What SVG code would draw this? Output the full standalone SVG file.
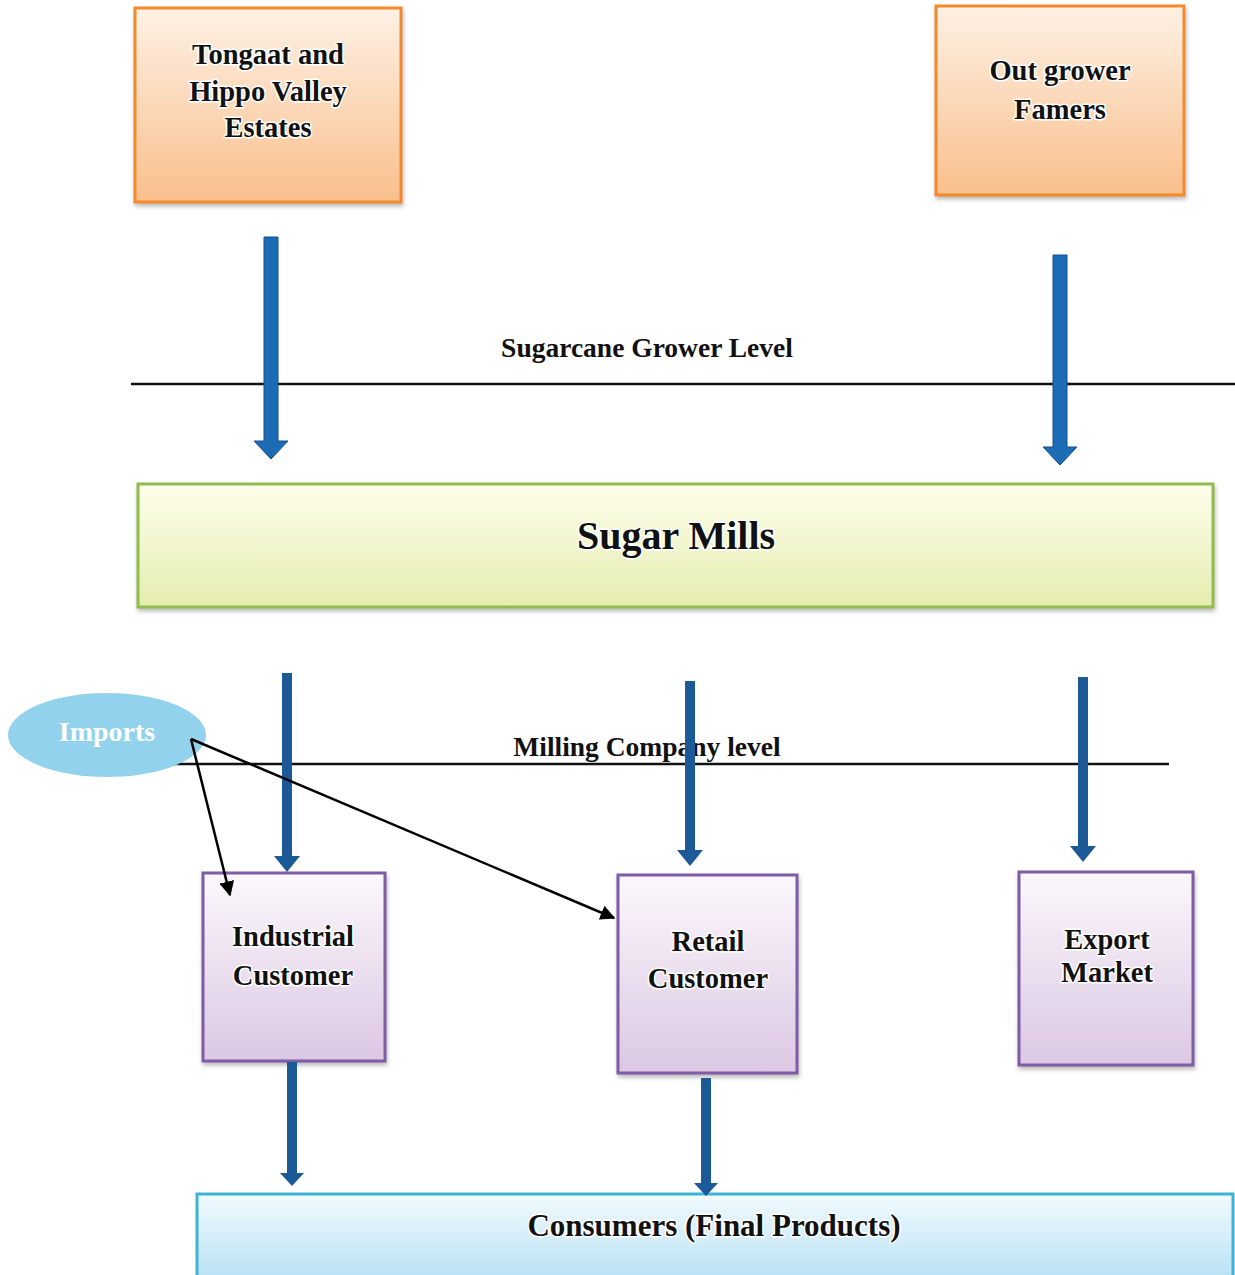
<svg xmlns="http://www.w3.org/2000/svg" width="1235" height="1275" viewBox="0 0 1235 1275">
<style>
.t{font-family:"Liberation Serif","DejaVu Serif",serif;font-weight:bold;fill:#111;text-anchor:middle;stroke:#fff;stroke-width:3;paint-order:stroke;stroke-linejoin:round}
.lv{font-family:"Liberation Serif","DejaVu Serif",serif;font-weight:bold;fill:#111;text-anchor:middle;font-size:27.5px}
.org{fill:url(#gO);stroke:#F28A2C;stroke-width:3}
.pur{fill:url(#gP);stroke:#7F5BA6;stroke-width:3}
.lvl{stroke:#111;stroke-width:2.5}
.blue1{fill:#1C6BB5;stroke:#174E8C;stroke-width:1}
.blue2{fill:#1B5A97}
.blk{stroke:#000;stroke-width:2.5;fill:none;marker-end:url(#ah)}
</style>
<defs>
<linearGradient id="gO" x1="0" y1="0" x2="0" y2="1"><stop offset="0" stop-color="#FEF1E5"/><stop offset="1" stop-color="#F9BF8C"/></linearGradient>
<linearGradient id="gG" x1="0" y1="0" x2="0" y2="1"><stop offset="0" stop-color="#FEFEEC"/><stop offset="1" stop-color="#E5EDAF"/></linearGradient>
<linearGradient id="gP" x1="0" y1="0" x2="0" y2="1"><stop offset="0" stop-color="#FCF7FC"/><stop offset="1" stop-color="#DBC8E3"/></linearGradient>
<linearGradient id="gB" x1="0" y1="0" x2="0" y2="1"><stop offset="0" stop-color="#F2FAFE"/><stop offset="1" stop-color="#B5E0F4"/></linearGradient>
<filter id="sh" x="-5%" y="-5%" width="110%" height="115%"><feDropShadow dx="1" dy="3" stdDeviation="2" flood-color="#777" flood-opacity="0.5"/></filter>
<marker id="ah" viewBox="0 0 10 10" refX="9" refY="5" markerWidth="6" markerHeight="6" orient="auto" markerUnits="strokeWidth"><path d="M0,0 L10,5 L0,10 z" fill="#000"/></marker>
</defs>

<g id="tongaat"><rect class="org" x="135" y="8" width="266" height="194" filter="url(#sh)"/>
<text class="t" font-size="28.5" x="268" y="64">Tongaat and</text>
<text class="t" font-size="28.5" x="268" y="101">Hippo Valley</text>
<text class="t" font-size="28.5" x="268" y="137">Estates</text></g>

<g id="outgrower"><rect class="org" x="936" y="6" width="248" height="189" filter="url(#sh)"/>
<text class="t" font-size="28.5" x="1060" y="80">Out grower</text>
<text class="t" font-size="28.5" x="1060" y="119">Famers</text></g>

<g id="levels">
<line class="lvl" x1="131" y1="384" x2="1235" y2="384"/>
<text class="lv" x="647" y="357">Sugarcane Grower Level</text>
<line class="lvl" x1="61" y1="764" x2="1169" y2="764"/>
</g>

<g id="sugarmills"><rect x="138" y="484" width="1075" height="123" fill="url(#gG)" stroke="#92BC4E" stroke-width="3" filter="url(#sh)"/>
<text class="t" font-size="40" x="676" y="549">Sugar Mills</text></g>

<g id="imports"><ellipse cx="107" cy="735" rx="99" ry="42" fill="#92D2EC"/>
<text x="107" y="741" font-family="Liberation Serif,DejaVu Serif,serif" font-weight="bold" font-size="28" fill="#fff" text-anchor="middle">Imports</text></g>

<g id="industrial"><rect class="pur" x="203" y="873" width="182" height="188" filter="url(#sh)"/>
<text class="t" font-size="28.5" x="293" y="946">Industrial</text>
<text class="t" font-size="28.5" x="293" y="985">Customer</text></g>

<g id="retail"><rect class="pur" x="618" y="875" width="179" height="198" filter="url(#sh)"/>
<text class="t" font-size="28.5" x="708" y="951">Retail</text>
<text class="t" font-size="28.5" x="708" y="988">Customer</text></g>

<g id="export"><rect class="pur" x="1019" y="872" width="174" height="193" filter="url(#sh)"/>
<text class="t" font-size="28.5" x="1107" y="949">Export</text>
<text class="t" font-size="28.5" x="1107" y="982">Market</text></g>

<g id="consumers"><rect x="197" y="1194" width="1036" height="90" fill="url(#gB)" stroke="#3FB3D6" stroke-width="3"/>
<text class="t" font-size="31" x="714" y="1236">Consumers (Final Products)</text></g>

<text class="lv" x="647" y="756">Milling Company level</text>

<g id="connectors">
<path class="blue1" d="M264,237 H278 V441 H288 L271,459 L254,441 H264 Z"/>
<path class="blue1" d="M1053,255 H1067 V447 H1077 L1060,465 L1043,447 H1053 Z"/>
<path class="blue2" d="M282,673 H292 V856 H300 L287,872 L274,856 H282 Z"/>
<path class="blue2" d="M685,681 H695 V850 H703 L690,866 L677,850 H685 Z"/>
<path class="blue2" d="M1078,677 H1088 V846 H1096 L1083,862 L1070,846 H1078 Z"/>
<path class="blue2" d="M287,1062 H297 V1173 H304 L292,1186 L280,1173 H287 Z"/>
<path class="blue2" d="M701,1078 H711 V1183 H718 L706,1196 L694,1183 H701 Z"/>
<line class="blk" x1="191" y1="739" x2="230" y2="895"/>
<line class="blk" x1="191" y1="739" x2="614" y2="918"/>
</g>
</svg>
